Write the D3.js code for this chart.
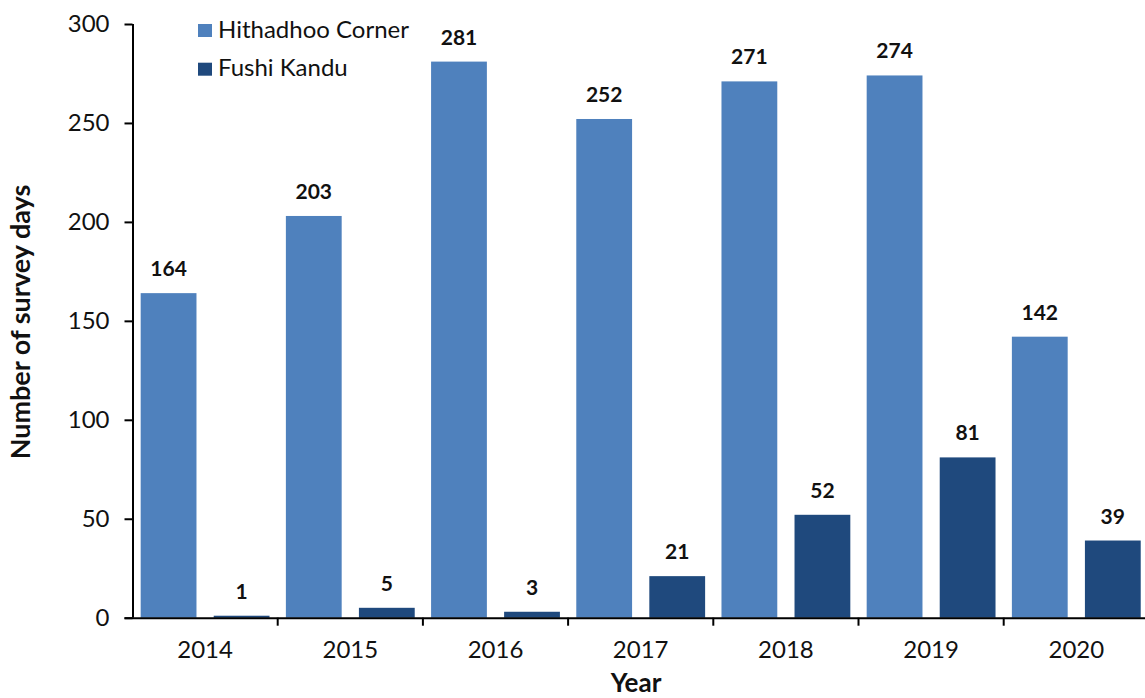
<!DOCTYPE html>
<html>
<head>
<meta charset="utf-8">
<script src="https://cdn.jsdelivr.net/npm/d3@7"></script>
<style>
  body { margin: 0; background: #fff; }
  svg { display: block; font-family: Lato, sans-serif; }
</style>
</head>
<body>
<div id="chart"></div>
<script>
const years = ['2014', '2015', '2016', '2017', '2018', '2019', '2020'];
const seriesNames = ['Hithadhoo Corner', 'Fushi Kandu'];
const hithadhoo = [164, 203, 281, 252, 271, 274, 142];
const fushiKandu = [1, 5, 3, 21, 52, 81, 39];
const yTicks = [0, 50, 100, 150, 200, 250, 300];
const colors = ['#4f81bd', '#1f497d'];

const width = 1145;
const height = 698;
const plotLeft = 132.5;
const groupW = 145.2;
const plotBottom = 617.7;
const plotTop = 24;

let svg = d3.select('#chart')
    .append('svg')
    .attr('width', width)
    .attr('height', height);

let x0 = d3.scaleBand()
    .domain(years)
    .range([plotLeft, plotLeft + groupW * years.length])
    .padding(0);

let x1 = d3.scaleBand()
    .domain(seriesNames)
    .range([0, x0.bandwidth()])
    .paddingInner(0.236)
    .paddingOuter(0.112);

let y = d3.scaleLinear()
    .domain([0, 300])
    .range([plotBottom, plotTop]);

// rows: one per year
let rows = years.map((yr, i) => ({
    year: yr,
    values: [
        {name: seriesNames[0], v: hithadhoo[i]},
        {name: seriesNames[1], v: fushiKandu[i]}
    ]
}));

let groups = svg.append('g')
    .selectAll('g')
    .data(rows)
    .join('g')
    .attr('transform', d => `translate(${x0(d.year)},0)`);

groups.selectAll('rect')
    .data(d => d.values)
    .join('rect')
    .attr('x', d => x1(d.name))
    .attr('y', d => y(d.v))
    .attr('width', x1.bandwidth())
    .attr('height', d => y(0) - y(d.v))
    .attr('fill', (d, i) => colors[i]);

groups.selectAll('text')
    .data(d => d.values)
    .join('text')
    .attr('x', d => x1(d.name) + x1.bandwidth() / 2)
    .attr('y', d => y(d.v) - 17)
    .attr('text-anchor', 'middle')
    .attr('font-size', 21)
    .attr('font-weight', 'bold')
    .attr('fill', '#111')
    .text(d => d.v);

// axes
let yAxis = d3.axisLeft(y)
    .tickValues(yTicks)
    .tickSize(8)
    .tickPadding(15);

let yg = svg.append('g')
    .attr('transform', `translate(${plotLeft},0)`)
    .call(yAxis);

let xAxis = d3.axisBottom(x0)
    .tickSize(0);

let xg = svg.append('g')
    .attr('transform', `translate(0,${plotBottom})`)
    .call(xAxis);

xg.selectAll('.tick text').attr('y', 40).attr('dy', 0);

// group boundary ticks
xg.selectAll('.sep')
    .data(years.slice(1))
    .join('line')
    .attr('class', 'sep')
    .attr('x1', d => x0(d))
    .attr('x2', d => x0(d))
    .attr('y1', 0)
    .attr('y2', 8)
    .attr('stroke', '#000')
    .attr('stroke-width', 2);

[yg, xg].forEach(g => {
    g.select('.domain').attr('stroke', '#000').attr('stroke-width', 2);
    g.selectAll('.tick line').attr('stroke', '#000').attr('stroke-width', 2);
    g.selectAll('.tick text')
        .attr('font-family', 'Lato, sans-serif')
        .attr('font-size', 24)
        .attr('fill', '#111');
});
xg.select('.domain').attr('d', `M${plotLeft - 8},0.5H${width}`);
yg.select('.domain').attr('d', `M0.5,${plotBottom}V${plotTop}`);

// axis titles
svg.append('text')
    .attr('x', 636)
    .attr('y', 692)
    .attr('text-anchor', 'middle')
    .attr('font-size', 26)
    .attr('font-weight', 'bold')
    .attr('fill', '#111')
    .text('Year');

svg.append('text')
    .attr('transform', 'translate(30,322) rotate(-90)')
    .attr('text-anchor', 'middle')
    .attr('font-size', 27)
    .attr('font-weight', 'bold')
    .attr('fill', '#111')
    .text('Number of survey days');

// legend
let legend = svg.append('g')
    .selectAll('g')
    .data(seriesNames)
    .join('g')
    .attr('transform', (d, i) => `translate(198,${24 + i * 38.7})`);

legend.append('rect')
    .attr('width', 14)
    .attr('height', 13)
    .attr('fill', (d, i) => colors[i]);

legend.append('text')
    .attr('x', 20)
    .attr('y', 13.5)
    .attr('font-size', 24)
    .attr('fill', '#111')
    .text(d => d);
</script>
</body>
</html>
